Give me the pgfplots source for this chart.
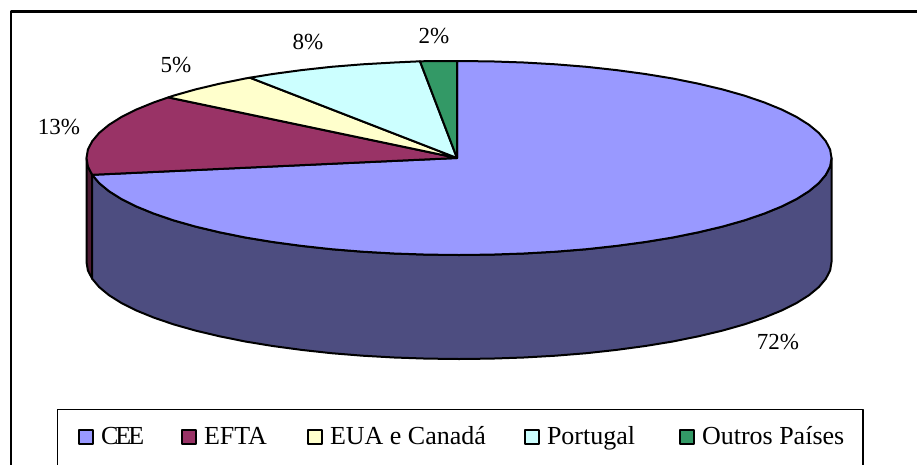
\documentclass[border=0pt]{standalone}
\usepackage{fontspec}
\setmainfont{Liberation Serif}
\usepackage{pgfplots}
\pgfplotsset{compat=1.18}
\definecolor{cee}{HTML}{9999FF}
\definecolor{ceeside}{HTML}{4D4D80}
\definecolor{efta}{HTML}{993366}
\definecolor{eftaside}{HTML}{4D1A33}
\definecolor{eua}{HTML}{FFFFCC}
\definecolor{port}{HTML}{CCFFFF}
\definecolor{outros}{HTML}{339966}
\begin{document}
\begin{tikzpicture}
\path[use as bounding box] (0,0) rectangle (917pt,464pt);
\begin{axis}[
  at={(0,0)}, anchor=south west,
  width=917pt, height=464pt, scale only axis,
  xmin=0, xmax=917, ymin=0, ymax=464, y dir=reverse,
  axis lines=none,
  line join=round,
  legend columns=10,
  legend cell align=left,
  legend style={
    at={(axis cs:78,436.5)}, anchor=west,
    draw=none, fill=none, inner sep=0pt, outer sep=0pt,
    nodes={inner sep=0pt, outer sep=0pt},
    font=\fontsize{26}{28}\selectfont,
    /tikz/every odd column/.append style={column sep=7pt},
  },
  legend image code/.code={
    \draw[#1, line width=2pt] (0pt,-7pt) rectangle (14pt,7pt);
  },
]
% frame and legend box, they run off the page at right and bottom
\addplot[forget plot, black, line width=2.4pt] coordinates {(11,470) (11,11.5) (925,11.5)};
\addplot[forget plot, black, line width=1.8pt] coordinates {(57.5,470) (57.5,409.5) (863,409.5) (863,470)};

% side walls
\addplot[forget plot, fill=eftaside, draw=black, line width=2pt] coordinates {
  (86.5,158) (87.9,166.5) (92.2,174.8) (92.2,278.8) (87.9,270.5) (86.5,262)
} -- cycle;
\addplot[forget plot, fill=ceeside, draw=black, line width=2pt] coordinates {
  (831.5,158) (830.1,166.5) (825.8,174.8) (818.8,183.1) (809,191.2) (796.6,199)
  (781.6,206.5) (764.2,213.6) (744.3,220.4) (722.4,226.6) (698.4,232.3) (672.7,237.5)
  (645.3,242) (616.4,245.9) (586.4,249.2) (555.4,251.7) (523.7,253.5) (491.5,254.6)
  (459,255) (426.5,254.6) (394.3,253.5) (362.6,251.7) (331.6,249.2) (301.6,245.9)
  (272.7,242) (245.3,237.5) (219.6,232.3) (195.6,226.6) (173.7,220.4) (153.8,213.6)
  (136.4,206.5) (121.4,199) (109,191.2) (99.2,183.1) (92.2,174.8)
  (92.2,278.8) (99.2,287.1) (109,295.2) (121.4,303) (136.4,310.5) (153.8,317.6)
  (173.7,324.4) (195.6,330.6) (219.6,336.3) (245.3,341.5) (272.7,346) (301.6,349.9)
  (331.6,353.2) (362.6,355.7) (394.3,357.5) (426.5,358.6) (459,359) (491.5,358.6)
  (523.7,357.5) (555.4,355.7) (586.4,353.2) (616.4,349.9) (645.3,346) (672.7,341.5)
  (698.4,336.3) (722.4,330.6) (744.3,324.4) (764.2,317.6) (781.6,310.5) (796.6,303)
  (809,295.2) (818.8,287.1) (825.8,278.8) (830.1,270.5) (831.5,262)
} -- cycle;

% top slices: CEE 72, EFTA 13, EUA e Canada 5, Portugal 8, Outros 2
\addplot[fill=cee, draw=black, line width=2pt] coordinates {
  (457,158) (457,61) (491.5,61.4) (523.7,62.5) (555.4,64.3) (586.4,66.8) (616.4,70.1)
  (645.3,74) (672.7,78.5) (698.4,83.7) (722.4,89.4) (744.3,95.6) (764.2,102.4)
  (781.6,109.5) (796.6,117) (809,124.8) (818.8,132.9) (825.8,141.2) (830.1,149.5)
  (831.5,158) (830.1,166.5) (825.8,174.8) (818.8,183.1) (809,191.2) (796.6,199)
  (781.6,206.5) (764.2,213.6) (744.3,220.4) (722.4,226.6) (698.4,232.3) (672.7,237.5)
  (645.3,242) (616.4,245.9) (586.4,249.2) (555.4,251.7) (523.7,253.5) (491.5,254.6)
  (459,255) (426.5,254.6) (394.3,253.5) (362.6,251.7) (331.6,249.2) (301.6,245.9)
  (272.7,242) (245.3,237.5) (219.6,232.3) (195.6,226.6) (173.7,220.4) (153.8,213.6)
  (136.4,206.5) (121.4,199) (109,191.2) (99.2,183.1) (92.2,174.8)
} -- cycle;
\addlegendentry{\makebox[80pt][l]{C\kern-3ptE\kern-3ptE}}
\addplot[fill=efta, draw=black, line width=2pt] coordinates {
  (457,158) (92.2,174.8) (87.9,166.5) (86.5,158) (87.9,149.5) (92.2,141.2) (99.2,132.9)
  (109,124.8) (121.4,117) (136.4,109.5) (153.8,102.4) (168.3,97.4)
} -- cycle;
\addlegendentry{\makebox[103pt][l]{EFTA}}
\addplot[fill=eua, draw=black, line width=2pt] coordinates {
  (457,158) (168.3,97.4) (173.7,95.6) (195.6,89.4) (219.6,83.7) (245.3,78.5) (250,77.7)
} -- cycle;
\addlegendentry{\makebox[194pt][l]{EUA e Canadá}}
\addplot[fill=port, draw=black, line width=2pt] coordinates {
  (457,158) (250,77.7) (272.7,74) (301.6,70.1) (331.6,66.8) (362.6,64.3) (394.3,62.5) (420,61.3)
} -- cycle;
\addlegendentry{\makebox[132pt][l]{Portugal}}
\addplot[fill=outros, draw=black, line width=2pt] coordinates {
  (457,158) (420,61.3) (426.5,61.2) (457,61)
} -- cycle;
\addlegendentry{\makebox[142pt][l]{Outros Países}}

\node[font=\fontsize{23}{25}\selectfont, inner sep=0pt] at (axis cs:778,342) {72\%};
\node[font=\fontsize{23}{25}\selectfont, inner sep=0pt] at (axis cs:59,127) {13\%};
\node[font=\fontsize{23}{25}\selectfont, inner sep=0pt] at (axis cs:176,65) {5\%};
\node[font=\fontsize{23}{25}\selectfont, inner sep=0pt] at (axis cs:308,42) {8\%};
\node[font=\fontsize{23}{25}\selectfont, inner sep=0pt] at (axis cs:434,36) {2\%};
\end{axis}
\end{tikzpicture}
\end{document}
